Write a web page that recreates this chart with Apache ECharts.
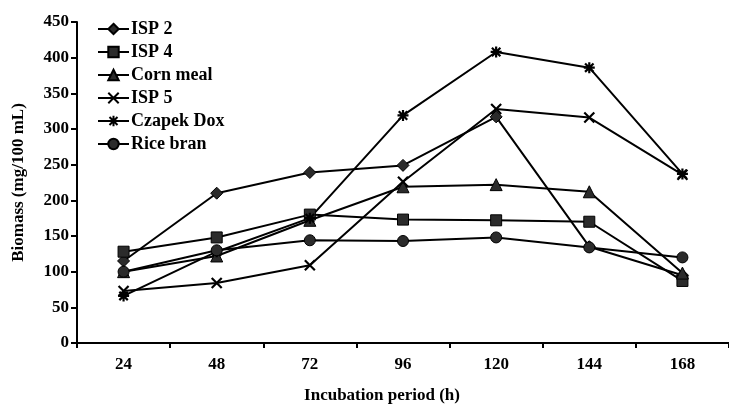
<!DOCTYPE html>
<html><head><meta charset="utf-8">
<script src="https://cdn.jsdelivr.net/npm/echarts@6/dist/echarts.min.js"></script>
<style>html,body{margin:0;padding:0;background:#fff}#c{width:729px;height:409px}</style>
</head><body><div id="c"></div>
<script>
var categories = ['24','48','72','96','120','144','168'];
var isp2 = [115, 210, 239, 249, 317, 135, 95];
var isp4 = [128, 148, 180, 173, 172, 170, 87];
var cornMeal = [100, 122, 172, 219, 222, 212, 98];
var isp5 = [73, 84, 109, 226, 328, 316, 236];
var czapekDox = [66, 128, 175, 319, 408, 386, 237];
var riceBran = [100, 130, 144, 143, 148, 134, 120];
var yTicks = [0, 50, 100, 150, 200, 250, 300, 350, 400, 450];

var FONT = 'Liberation Serif';
var xPath = 'path://M0,0L10,10M10,0L0,10';
var starPath = 'path://M0,0L10,10M10,0L0,10M5,-1.5L5,11.5M-1.5,5L11.5,5';

function mk(name, data, symbol, size, stroke) {
  return {
    name: name, type: 'line', data: data,
    symbol: symbol, symbolSize: size, showAllSymbol: true,
    lineStyle: {color: '#000', width: 2},
    itemStyle: stroke ? {color: 'rgba(0,0,0,0)', borderColor: '#000', borderWidth: 2.2}
                      : {color: '#2b2b2b', borderColor: '#000', borderWidth: 1},
    emphasis: {disabled: true}
  };
}

var chart = echarts.init(document.getElementById('c'), null, {renderer: 'canvas'});
chart.setOption({
  animation: false,
  backgroundColor: '#fff',
  grid: {left: 77, right: -5, top: 22, bottom: 66, containLabel: false},
  legend: {
    left: 92, top: 15, orient: 'vertical', padding: 5,
    itemWidth: 31, itemHeight: 13, itemGap: 5,
    textStyle: {fontFamily: FONT, fontWeight: 'bold', fontSize: 18, color: '#000', padding: [0,0,0,-3]},
    data: ['ISP 2','ISP 4','Corn meal','ISP 5','Czapek Dox','Rice bran']
  },
  xAxis: {
    type: 'category', data: categories, boundaryGap: true,
    name: 'Incubation period (h)', nameLocation: 'middle', nameGap: 44,
    nameTextStyle: {fontFamily: FONT, fontWeight: 'bold', fontSize: 17, color: '#000', padding: [0, 42, 0, 0]},
    axisLine: {lineStyle: {color: '#000', width: 2}},
    axisTick: {show: true, inside: false, length: 5, lineStyle: {color: '#000', width: 2}, alignWithLabel: false},
    axisLabel: {fontFamily: FONT, fontWeight: 'bold', fontSize: 17, color: '#000', margin: 13},
    splitLine: {show: false}
  },
  yAxis: {
    type: 'value', min: 0, max: 450, interval: 50,
    name: 'Biomass (mg/100 mL)', nameLocation: 'middle', nameGap: 50,
    nameTextStyle: {fontFamily: FONT, fontWeight: 'bold', fontSize: 17, color: '#000'},
    axisLine: {show: true, lineStyle: {color: '#000', width: 2}},
    axisTick: {show: true, length: 6, lineStyle: {color: '#000', width: 2}},
    axisLabel: {fontFamily: FONT, fontWeight: 'bold', fontSize: 17, color: '#000', margin: 8,
      formatter: function(v){ return yTicks.indexOf(v) >= 0 ? String(v) : ''; }},
    splitLine: {show: false}
  },
  series: [
    mk('ISP 2', isp2, 'diamond', 12, false),
    mk('ISP 4', isp4, 'rect', 11, false),
    mk('Corn meal', cornMeal, 'triangle', 12, false),
    mk('ISP 5', isp5, xPath, 10, true),
    mk('Czapek Dox', czapekDox, starPath, 11, true),
    mk('Rice bran', riceBran, 'circle', 11, false)
  ]
});
</script></body></html>
